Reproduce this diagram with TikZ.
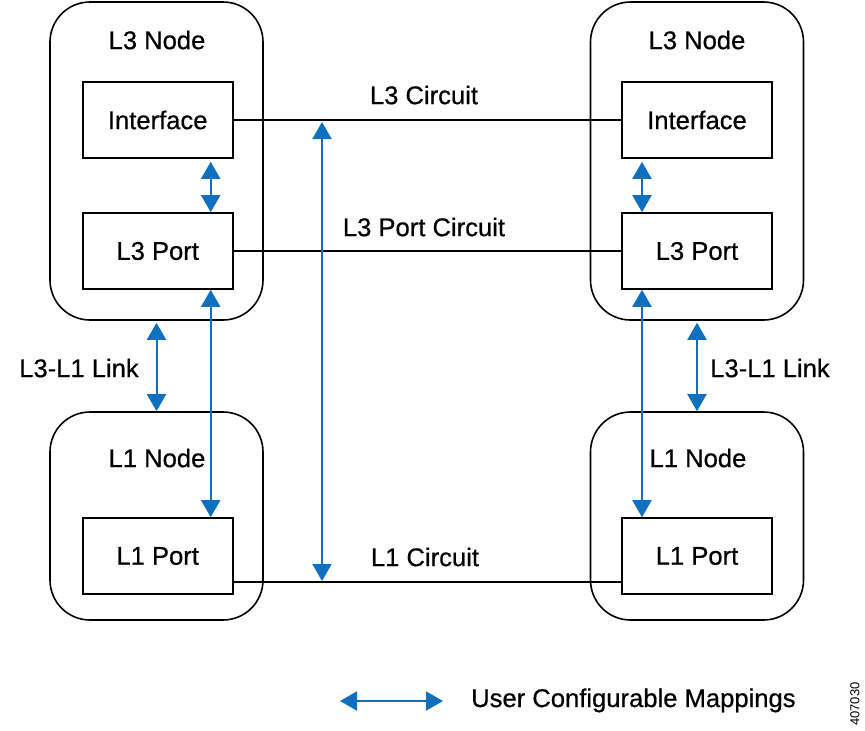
\documentclass[tikz,border=0pt]{standalone}
\usepackage{fontspec}
\setmainfont{Liberation Sans}[FakeBold=0.6]
\newfontfamily\fignum{Liberation Sans}
\usetikzlibrary{arrows.meta,calc}
\definecolor{cblue}{RGB}{16,112,192}
\begin{document}
\begin{tikzpicture}[x=1pt,y=-1pt,
  grp/.style={draw,line width=1.6pt,rounded corners=40pt,minimum width=213pt,inner sep=0pt},
  box/.style={draw,line width=1.6pt,minimum width=150pt,minimum height=76pt,inner sep=0pt,font=\fontsize{25.6}{30}\selectfont},
  lbl/.style={font=\fontsize{25.6}{30}\selectfont,inner sep=0pt},
  link/.style={line width=1.6pt},
  map/.style={cblue,line width=2pt,{Triangle[length=17pt,width=19pt]}-{Triangle[length=17pt,width=19pt]}}]
\useasboundingbox (0,0) rectangle (865,731);
% group boxes
\node[grp,minimum height=318pt] (gl3) at (156.5,161) {};
\node[grp,minimum height=208pt] (gl1) at (156.5,516) {};
\node[grp,minimum height=318pt] (gr3) at (697,161) {};
\node[grp,minimum height=208pt] (gr1) at (697,516) {};
% inner boxes
\node[box] (lif) at (157.7,120) {Interface};
\node[box] (lp3) at (157.7,251) {L3 Port};
\node[box] (lp1) at (157.7,556) {L1 Port};
\node[box] (rif) at (697,120) {Interface};
\node[box] (rp3) at (697,251) {L3 Port};
\node[box] (rp1) at (697,556) {L1 Port};
% labels
\node[lbl] (tl3) at (157,40) {L3 Node};
\node[lbl] (tr3) at (697,40) {L3 Node};
\node[lbl] (tl1) at (157,458) {L1 Node};
\node[lbl] (tr1) at (698,458) {L1 Node};
\node[lbl] (c3) at (424,95) {L3 Circuit};
\node[lbl] (c3p) at (424,227) {L3 Port Circuit};
\node[lbl] (c1) at (425,557) {L1 Circuit};
\node[lbl] (kl) at (79,368) {L3-L1 Link};
\node[lbl] (kr) at (770,368) {L3-L1 Link};
% circuits
\draw[link] (lif) -- (rif);
\draw[link] (lp3) -- (rp3);
\draw[link] ([yshift=-26pt]lp1.east) -- ([yshift=-26pt]rp1.west);
% mappings
\coordinate (mt) at (322,122);
\coordinate (mb) at (322,581);
\draw[map] (mb) -- (mt);
\draw[map] ([xshift=53pt,yshift=-3pt]lif.south) -- ([xshift=53pt]lp3.north);
\draw[map] ([xshift=-55pt,yshift=-3pt]rif.south) -- ([xshift=-55pt]rp3.north);
\draw[map] ([xshift=53pt]lp3.south) -- ([xshift=53pt]lp1.north);
\draw[map] ([xshift=-55pt]rp3.south) -- ([xshift=-55pt]rp1.north);
\draw[map] ([yshift=-2pt]gl3.south) -- (gl1.north);
\draw[map] ([yshift=-2pt]gr3.south) -- (gr1.north);
% legend
\coordinate (la) at (340,701);
\coordinate (lb) at (443,701);
\draw[map] (la) -- (lb);
\node[lbl,anchor=base west] (leg) at (471,707) {User Configurable Mappings};
\node[font=\fignum\fontsize{13}{15}\selectfont,rotate=90,inner sep=0pt] (fig) at (855,704) {407030};
\end{tikzpicture}
\end{document}
